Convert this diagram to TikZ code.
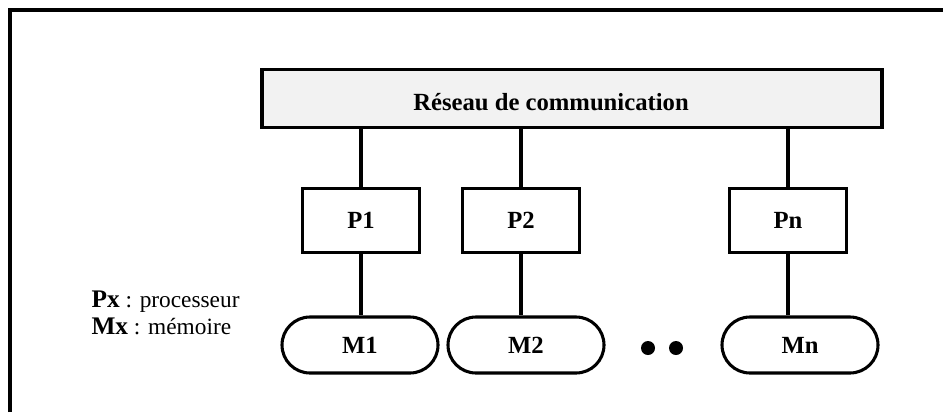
\documentclass[tikz,border=0pt]{standalone}
\usepackage{fontspec}
\setmainfont{Liberation Serif}
\usetikzlibrary{shapes.misc}
\begin{document}
\begin{tikzpicture}[x=0.75pt,y=-0.75pt,line width=2.3pt,
  lbl/.style={font=\fontsize{18.5}{20}\selectfont\bfseries, text height=12pt, text depth=0pt},
  netbox/.style={draw, rectangle, fill=black!5, minimum width=465pt, minimum height=44pt, inner sep=0pt},
  procbox/.style={draw, rectangle, minimum width=88pt, minimum height=48.5pt, inner sep=0pt, lbl},
  membox/.style={draw, rounded rectangle, minimum width=117pt, minimum height=42pt, inner sep=0pt, lbl},
  dotmark/.style={circle, fill=black, inner sep=0pt, minimum size=10.5pt},
  legend/.style={anchor=base west, font=\fontsize{17.5}{20}\selectfont, inner sep=0pt},
  link/.style={draw, line width=2.3pt}]
\useasboundingbox (0,0) rectangle (943,412);
% outer frame
\draw[line width=2.4pt] (10,412) -- (10,10) -- (943,10);

% communication network
\node[netbox] (net) at (572,98.5) {};
\node[lbl] (netlabel) at (551,102) {Réseau de communication};

% processors
\node[procbox] (p1) at (361,220.5) {P1};
\node[procbox] (p2) at (521,220.5) {P2};
\node[procbox] (pn) at (788,220.5) {Pn};

% memories
\node[membox] (m1) at (360,345) {M1};
\node[membox] (m2) at (526,345) {M2};
\node[membox] (mn) at (800,345) {Mn};

% ellipsis
\node[dotmark] (d1) at (648,348) {};
\node[dotmark] (d2) at (676,348) {};

% links
\foreach \p/\m in {p1/m1, p2/m2, pn/mn} {
  \path[link] (\p.north |- net.south) -- (\p.north);
  \path[link] (\p.south) -- (\p.south |- \m.north);
}

% legend
\node[legend] (lp) at (90,307) {\textnormal{\fontsize{19}{20}\selectfont\bfseries Px} : processeur};
\node[legend] (lm) at (90,334) {\textnormal{\fontsize{19}{20}\selectfont\bfseries Mx} : mémoire};
\end{tikzpicture}
\end{document}
